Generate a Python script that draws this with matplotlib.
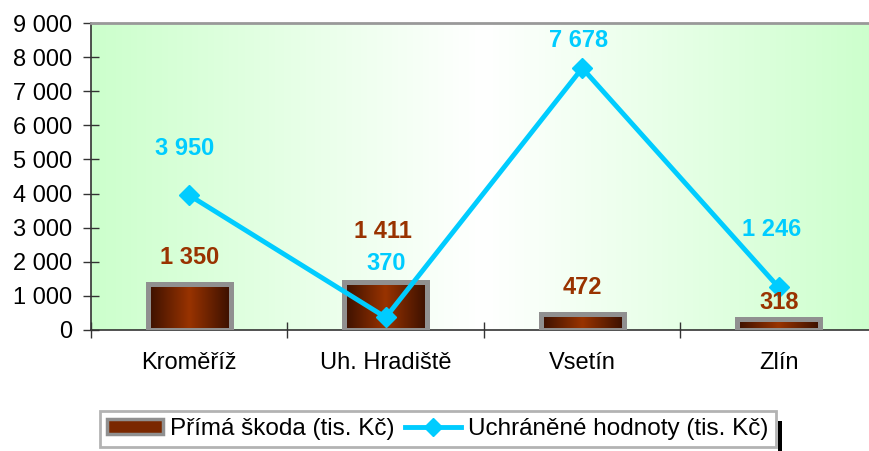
import numpy as np
import matplotlib
matplotlib.use("Agg")
import matplotlib.pyplot as plt
from matplotlib.colors import LinearSegmentedColormap
from matplotlib.patches import Rectangle
from matplotlib.lines import Line2D

plt.rcParams["font.family"] = ["Liberation Sans", "DejaVu Sans"]

# data
categories = ["Kroměříž", "Uh. Hradiště", "Vsetín", "Zlín"]
prima_skoda = [1350, 1411, 472, 318]
uchranene = [3950, 370, 7678, 1246]
yticks = [0, 1000, 2000, 3000, 4000, 5000, 6000, 7000, 8000, 9000]
ytick_labels = ["0", "1 000", "2 000", "3 000", "4 000", "5 000",
                "6 000", "7 000", "8 000", "9 000"]

# label offsets in pixels (x, y) from the data point
bar_label_off = [(0, 26), (-3, 50), (0, 26), (0, 17)]
line_label_off = [(-5, 47), (0, 54), (-4, 28), (-7, 58)]

BROWN = "#993300"
CYAN = "#00ccff"

fig = plt.figure(figsize=(8.7, 4.51), dpi=100)
ax = fig.add_axes([91 / 870, 1 - 330 / 451, 786 / 870, 307 / 451])

x = np.arange(len(categories))
ax.set_xlim(-0.5, len(categories) - 0.5)
ax.set_ylim(0, 9000)

# background: green -> white -> green
bg_cmap = LinearSegmentedColormap.from_list("bg", ["#ccffcc", "#ffffff", "#ccffcc"])
ax.imshow(np.linspace(0, 1, 256).reshape(1, -1), cmap=bg_cmap, aspect="auto",
          extent=[0, 1, 0, 1], transform=ax.transAxes, zorder=0)

# bars with horizontal gradient fill
bar_cmap = LinearSegmentedColormap.from_list("bar", ["#3a1000", BROWN, "#3a1000"])
bars = ax.bar(x, prima_skoda, width=0.42, facecolor="none",
              edgecolor="#909090", linewidth=3.6, zorder=3)
for b in bars:
    x0, y0 = b.get_x(), b.get_y()
    w, h = b.get_width(), b.get_height()
    im = ax.imshow(np.linspace(0, 1, 128).reshape(1, -1), cmap=bar_cmap,
                   aspect="auto", extent=[x0, x0 + w, y0, y0 + h], zorder=2)
    im.set_clip_path(b)

# line
ax.plot(x, uchranene, color=CYAN, linewidth=3.5, marker="D",
        markersize=10, zorder=4)

for xi, v, off in zip(x, prima_skoda, bar_label_off):
    ax.annotate(f"{v:,}".replace(",", " "), (xi, v), xytext=off,
                textcoords="offset pixels", ha="center", va="center",
                fontsize=17, fontweight="bold", color=BROWN, zorder=5)
for xi, v, off in zip(x, uchranene, line_label_off):
    ax.annotate(f"{v:,}".replace(",", " "), (xi, v), xytext=off,
                textcoords="offset pixels", ha="center", va="center",
                fontsize=17, fontweight="bold", color=CYAN, zorder=5)

# axes styling
ax.set_yticks(yticks)
ax.set_yticklabels(ytick_labels)
ax.set_xticks(x)
ax.set_xticklabels(categories)
ax.set_xticks(np.arange(len(categories) + 1) - 0.5, minor=True)
ax.tick_params(axis="x", which="major", length=0, pad=16, labelsize=17)
ax.tick_params(axis="x", which="minor", direction="inout", length=11,
               width=1, color="#333333")
ax.tick_params(axis="y", direction="inout", length=11, width=1,
               color="#333333", labelsize=17, pad=8)
for s in ["left", "bottom"]:
    ax.spines[s].set_color("#333333")
    ax.spines[s].set_linewidth(1.2)
ax.spines["top"].set_color("#999999")
ax.spines["top"].set_linewidth(2)
ax.spines["right"].set_visible(False)

# legend
h_bar = Rectangle((0, 0), 1, 1, facecolor="#7a2800", edgecolor="#909090", linewidth=2.5)
h_line = Line2D([], [], color=CYAN, linewidth=3.5, marker="D", markersize=9)
leg = fig.legend([h_bar, h_line],
                 ["Přímá škoda (tis. Kč)", "Uchráněné hodnoty (tis. Kč)"],
                 ncol=2, loc="center left", bbox_to_anchor=(100 / 870, 1 - 429 / 451),
                 fontsize=17.5, frameon=True, fancybox=False, edgecolor="#a0a0a0",
                 handlelength=2.3, handleheight=0.6, handletextpad=0.3,
                 columnspacing=0.4, borderpad=0.3, borderaxespad=0)
leg.get_frame().set_linewidth(2)

fig.canvas.draw()
bb = leg.get_window_extent().transformed(fig.transFigure.inverted())
fig.patches.append(Rectangle((bb.x1 + 2 / 870, bb.y0 - 6 / 451), 4 / 870,
                             bb.height - 4 / 451,
                             transform=fig.transFigure, facecolor="black",
                             edgecolor="none", zorder=0))

fig.savefig("out.png", dpi=100)
